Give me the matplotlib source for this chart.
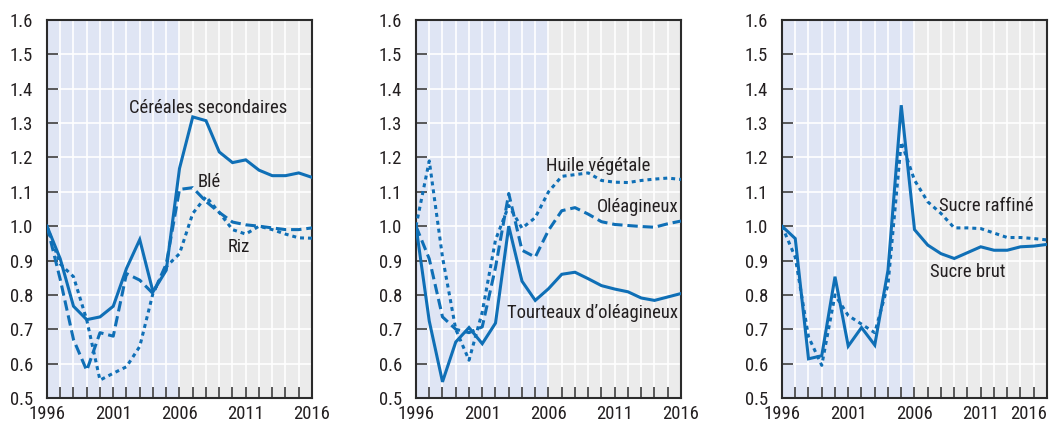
import matplotlib
matplotlib.use('Agg')
import matplotlib.pyplot as plt
from matplotlib.ticker import MultipleLocator

plt.rcParams['font.family'] = ['Roboto Condensed', 'Liberation Sans Narrow', 'DejaVu Sans']

# ---------------------------------------------------------------------------
# Data (index, 1996 = 1)
# ---------------------------------------------------------------------------
years = list(range(1996, 2017))

cereales = [1.00, 0.905, 0.767, 0.728, 0.736, 0.767, 0.877, 0.961, 0.809, 0.872, 1.168,
            1.318, 1.307, 1.216, 1.185, 1.193, 1.163, 1.147, 1.147, 1.155, 1.142]
ble = [1.00, 0.845, 0.67, 0.58, 0.69, 0.68, 0.862, 0.843, 0.804, 0.89, 1.107,
       1.112, 1.072, 1.04, 1.012, 1.004, 1.0, 0.995, 0.99, 0.99, 0.995]
riz = [1.00, 0.89, 0.853, 0.727, 0.552, 0.572, 0.591, 0.65, 0.805, 0.882, 0.92,
       1.037, 1.086, 1.04, 0.99, 0.977, 1.0, 0.99, 0.977, 0.966, 0.965]

tourteaux = [1.00, 0.724, 0.547, 0.663, 0.705, 0.658, 0.718, 1.0, 0.84, 0.784, 0.818,
             0.86, 0.866, 0.847, 0.827, 0.817, 0.809, 0.791, 0.784, 0.794, 0.804]
huile = [1.00, 1.19, 0.91, 0.70, 0.61, 0.75, 0.96, 1.06, 0.994, 1.025, 1.10,
         1.145, 1.15, 1.155, 1.133, 1.128, 1.127, 1.133, 1.137, 1.14, 1.136]
oleagineux = [1.00, 0.905, 0.736, 0.70, 0.69, 0.707, 0.88, 1.095, 0.93, 0.91, 0.988,
              1.045, 1.054, 1.035, 1.013, 1.005, 1.002, 0.999, 0.997, 1.007, 1.015]

sucre_brut = [1.00, 0.964, 0.614, 0.623, 0.853, 0.651, 0.705, 0.654, 0.872, 1.352, 0.99,
              0.945, 0.92, 0.906, 0.923, 0.94, 0.93, 0.93, 0.94, 0.942, 0.947]
sucre_raffine = [1.00, 0.91, 0.678, 0.595, 0.80, 0.74, 0.715, 0.69, 0.83, 1.245, 1.134,
                 1.071, 1.037, 0.995, 0.995, 0.993, 0.98, 0.967, 0.967, 0.964, 0.96]

year_labels = [1996, 2001, 2006, 2011, 2016]

BLUE = '#0f6fb6'
SHADE_BLUE = '#dfe5f4'
SHADE_GREY = '#ebebeb'
DARK = '#2b2b2b'
TXT = '#231f20'
FS = 13.4

DASHED = (0, (3.4, 1.6))
DOTTED = (0, (1.3, 1.3))

fig = plt.figure(figsize=(10.49, 4.23), dpi=100)

lefts = [47 / 1049, 416 / 1049, 782 / 1049]
w = 265 / 1049
b = 25 / 423
h = 378 / 423

panels = [
    [(cereales, '-'), (ble, DASHED), (riz, DOTTED)],
    [(tourteaux, '-'), (huile, DOTTED), (oleagineux, DASHED)],
    [(sucre_brut, '-'), (sucre_raffine, DOTTED)],
]
labels = [
    [('Céréales secondaires', 2002.2, 1.344), ('Blé', 2007.4, 1.129), ('Riz', 2009.65, 0.94)],
    [('Huile végétale', 2005.8, 1.176), ('Oléagineux', 2009.65, 1.055),
     ('Tourteaux d\u2019oléagineux', 2002.9, 0.746)],
    [('Sucre raffiné', 2007.85, 1.06), ('Sucre brut', 2007.15, 0.868)],
]

for i, left in enumerate(lefts):
    ax = fig.add_axes([left, b, w, h])
    ax.axvspan(1996, 2006, color=SHADE_BLUE, lw=0, zorder=0)
    ax.axvspan(2006, 2016, color=SHADE_GREY, lw=0, zorder=0)
    ax.set_axisbelow(True)

    for series, ls in panels[i]:
        ax.plot(years, series, color=BLUE, lw=2.2, linestyle=ls, zorder=3,
                solid_joinstyle='miter', dash_capstyle='butt')

    for txt, x, y in labels[i]:
        ax.text(x, y, txt, fontsize=FS, color=TXT, ha='left', va='center', zorder=4)

    ax.set_xlim(1996, 2016)
    ax.set_ylim(0.5, 1.6)
    ax.set_xticks(year_labels)
    ax.xaxis.set_minor_locator(MultipleLocator(1))
    ax.yaxis.set_major_locator(MultipleLocator(0.1))
    ax.set_yticklabels([f'{v:.1f}' for v in ax.get_yticks()])
    ax.grid(True, which='both', axis='x', color='white', lw=1.2)
    ax.grid(True, which='major', axis='y', color='white', lw=1.2)

    ax.tick_params(axis='both', which='both', direction='in', color=DARK,
                   length=8, width=1.1, labelsize=FS, labelcolor=TXT)
    ax.tick_params(axis='x', which='both', top=False, pad=5)
    ax.tick_params(axis='y', right=False, pad=10)
    for sp in ax.spines.values():
        sp.set_color(DARK)
        sp.set_linewidth(1.5)

    if i == 2:
        ax.get_xticklabels()[-1].set_horizontalalignment('right')

fig.savefig('out.png', dpi=100, facecolor='white')
